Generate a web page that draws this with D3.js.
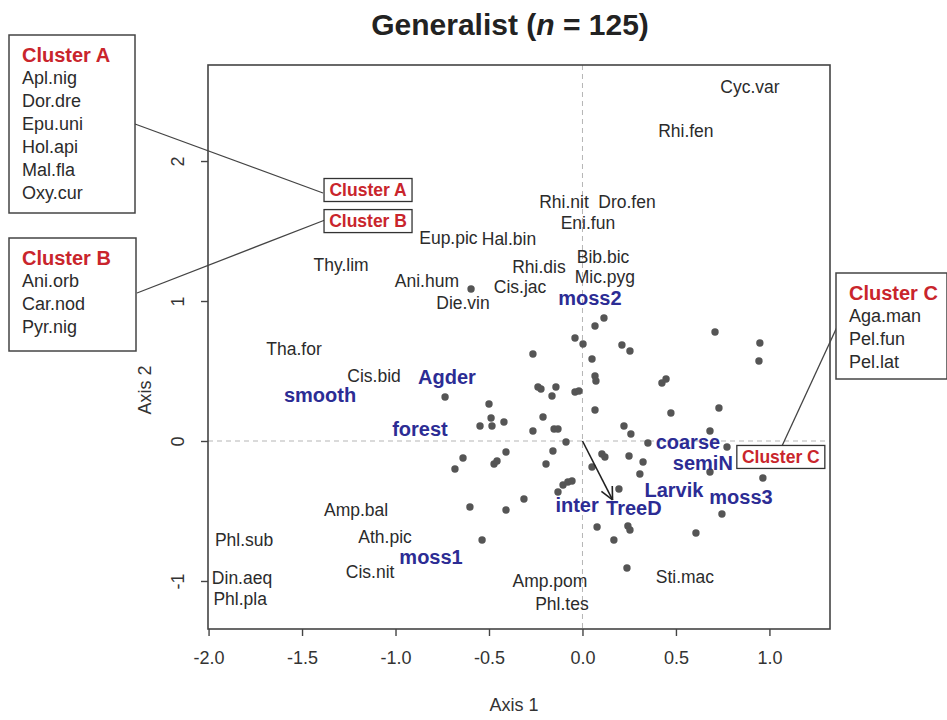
<!DOCTYPE html>
<html>
<head>
<meta charset="utf-8">
<title>Generalist</title>
<script src="https://cdn.jsdelivr.net/npm/d3@7"></script>
<style>
  body { margin: 0; background: #fff; }
  text { font-family: "Liberation Sans", Arial, sans-serif; }
</style>
</head>
<body>
<svg id="chart" width="947" height="720"></svg>
<script>
// site scores (Axis 1, Axis 2)
let siteX = [0.115, 0.067, -0.040, 0.003, -0.265, 0.051, 0.211, 0.254, 0.067, 0.072,
             -0.238, -0.222, -0.142, -0.163, -0.040, -0.019, -0.735, -0.500, 0.067, -0.489,
             -0.484, -0.420, -0.548, -0.211, -0.265, -0.152, -0.131, -0.088, -0.158, -0.409,
             0.222, 0.104, 0.120, 0.249, -0.639, 0.709, 0.949, 0.944, 0.425, 0.447,
             0.473, 0.730, 0.259, 0.682, 0.350, 0.773, 0.324, -0.682, -0.473, -0.457,
             -0.195, -0.104, -0.078, -0.056, -0.131, 0.051, 0.195, -0.313, -0.602, -0.409,
             0.078, 0.168, -0.537, 0.238, 0.682, 0.307, 0.965, 0.746, 0.243, 0.254,
             0.607, -0.596];
let siteY = [0.879, 0.821, 0.736, 0.693, 0.621, 0.586, 0.686, 0.643, 0.464, 0.429,
             0.386, 0.371, 0.386, 0.321, 0.350, 0.357, 0.314, 0.264, 0.221, 0.164,
             0.107, 0.136, 0.107, 0.171, 0.071, 0.086, 0.086, -0.007, -0.071, -0.079,
             0.107, -0.093, -0.114, -0.107, -0.121, 0.779, 0.700, 0.571, 0.414, 0.443,
             0.200, 0.236, 0.050, 0.071, -0.014, -0.043, -0.150, -0.200, -0.164, -0.143,
             -0.164, -0.314, -0.293, -0.286, -0.364, -0.186, -0.343, -0.414, -0.471, -0.493,
             -0.614, -0.707, -0.707, -0.907, -0.221, -0.236, -0.264, -0.521, -0.607, -0.636,
             -0.657, 1.086];

// species
let spNames = ["Cyc.var", "Rhi.fen", "Rhi.nit", "Dro.fen", "Eni.fun", "Eup.pic", "Hal.bin",
               "Thy.lim", "Rhi.dis", "Bib.bic", "Mic.pyg", "Ani.hum", "Cis.jac", "Die.vin",
               "Tha.for", "Cis.bid", "Amp.bal", "Ath.pic", "Phl.sub", "Din.aeq", "Phl.pla",
               "Cis.nit", "Amp.pom", "Phl.tes", "Sti.mac"];
let spX = [0.896, 0.553, -0.099, 0.238, 0.029, -0.717, -0.393,
           -1.291, -0.233, 0.110, 0.120, -0.832, -0.334, -0.639,
           -1.543, -1.115, -1.211, -1.056, -1.810, -1.821, -1.831,
           -1.136, -0.174, -0.110, 0.548];
let spY = [2.529, 2.214, 1.707, 1.707, 1.557, 1.450, 1.443,
           1.257, 1.243, 1.314, 1.171, 1.143, 1.100, 0.986,
           0.657, 0.464, -0.493, -0.686, -0.707, -0.979, -1.129,
           -0.936, -1.000, -1.164, -0.971];

// environmental variables
let envNames = ["moss2", "Agder", "smooth", "forest", "coarse", "semiN", "Larvik",
                "moss3", "inter", "TreeD", "moss1"];
let envX = [0.040, -0.725, -1.404, -0.869, 0.564, 0.644, 0.489, 0.848, -0.029, 0.275, -0.810];
let envY = [1.021, 0.457, 0.329, 0.086, -0.010, -0.160, -0.350, -0.400, -0.457, -0.479, -0.829];

// fitted vector
let arrowEnd = [0.161, -0.421];

// clusters
let clusterNames = ["Cluster A", "Cluster B", "Cluster C"];
let clusterX = [-1.147, -1.147, 1.061];
let clusterY = [1.793, 1.571, -0.114];
let clusterA = ["Apl.nig", "Dor.dre", "Epu.uni", "Hol.api", "Mal.fla", "Oxy.cur"];
let clusterB = ["Ani.orb", "Car.nod", "Pyr.nig"];
let clusterC = ["Aga.man", "Pel.fun", "Pel.lat"];

let xTicks = [-2.0, -1.5, -1.0, -0.5, 0.0, 0.5, 1.0];
let yTicks = [-1, 0, 1, 2];

let svg = d3.select("#chart");
svg.append("rect").attr("width", 947).attr("height", 720).attr("fill", "#fff");

let pLeft = 208, pRight = 830, pTop = 65, pBottom = 629;
let x = d3.scaleLinear().domain([-2.003, 1.324]).range([pLeft, pRight]);
let y = d3.scaleLinear().domain([-1.343, 2.686]).range([pBottom, pTop]);

let red = "#c9252c", blue = "#2c2c94", ink = "#2b2b2b";

// zero lines
svg.append("line")
  .attr("x1", x(0)).attr("x2", x(0)).attr("y1", pTop).attr("y2", pBottom)
  .attr("stroke", "#b5b5b5").attr("stroke-dasharray", "5,4");
svg.append("line")
  .attr("x1", pLeft).attr("x2", pRight).attr("y1", y(0)).attr("y2", y(0))
  .attr("stroke", "#b5b5b5").attr("stroke-dasharray", "5,4");

// sites
svg.append("g").selectAll("circle")
  .data(d3.range(siteX.length))
  .join("circle")
    .attr("cx", i => x(siteX[i]))
    .attr("cy", i => y(siteY[i]))
    .attr("r", 3.7)
    .attr("fill", "#555");

// arrow
let ax = x(arrowEnd[0]), ay = y(arrowEnd[1]);
let ang = Math.atan2(ay - y(0), ax - x(0));
svg.append("line")
  .attr("x1", x(0)).attr("y1", y(0)).attr("x2", ax).attr("y2", ay)
  .attr("stroke", "#222").attr("stroke-width", 1.6);
[-0.45, 0.45].forEach(function(a) {
  svg.append("line")
    .attr("x1", ax).attr("y1", ay)
    .attr("x2", ax - 14 * Math.cos(ang + a))
    .attr("y2", ay - 14 * Math.sin(ang + a))
    .attr("stroke", "#222").attr("stroke-width", 1.6);
});

// species labels
svg.append("g").selectAll("text")
  .data(spNames)
  .join("text")
    .attr("x", (d, i) => x(spX[i]))
    .attr("y", (d, i) => y(spY[i]))
    .attr("dy", "0.35em")
    .attr("text-anchor", "middle")
    .attr("font-size", 17.5)
    .attr("fill", ink)
    .text(d => d);

// env labels
svg.append("g").selectAll("text")
  .data(envNames)
  .join("text")
    .attr("x", (d, i) => x(envX[i]))
    .attr("y", (d, i) => y(envY[i]))
    .attr("dy", "0.35em")
    .attr("text-anchor", "middle")
    .attr("font-size", 20)
    .attr("font-weight", "bold")
    .attr("fill", blue)
    .text(d => d);

// connector lines from legend boxes
let links = [[135, 124, 323, 193], [137, 293, 325, 220], [837, 327, 782, 446]];
links.forEach(function(l) {
  svg.append("line")
    .attr("x1", l[0]).attr("y1", l[1]).attr("x2", l[2]).attr("y2", l[3])
    .attr("stroke", "#444").attr("stroke-width", 1.3);
});

// cluster tags inside the plot
clusterNames.forEach(function(name, i) {
  let cx = x(clusterX[i]), cy = y(clusterY[i]);
  svg.append("rect")
    .attr("x", cx - 44).attr("y", cy - 11.5).attr("width", 88).attr("height", 23)
    .attr("fill", "#fff").attr("stroke", "#333").attr("stroke-width", 1.3);
  svg.append("text")
    .attr("x", cx).attr("y", cy).attr("dy", "0.35em")
    .attr("text-anchor", "middle")
    .attr("font-size", 17.5).attr("font-weight", "bold")
    .attr("fill", red)
    .text(name);
});

// plot frame
svg.append("rect")
  .attr("x", pLeft).attr("y", pTop).attr("width", pRight - pLeft).attr("height", pBottom - pTop)
  .attr("fill", "none").attr("stroke", "#444").attr("stroke-width", 1.6);

// axes
let xAxis = svg.append("g")
  .attr("transform", "translate(0," + pBottom + ")")
  .call(d3.axisBottom(x).tickValues(xTicks).tickSize(7).tickPadding(15)
    .tickFormat(d => d.toFixed(1)));
let yAxis = svg.append("g")
  .attr("transform", "translate(" + pLeft + ",0)")
  .call(d3.axisLeft(y).tickValues(yTicks).tickSize(7).tickFormat(d => String(d)));
[xAxis, yAxis].forEach(function(a) {
  a.select(".domain").remove();
  a.selectAll(".tick line").attr("stroke", "#444").attr("stroke-width", 1.4);
  a.selectAll(".tick text").attr("font-size", 18).attr("fill", "#333")
    .attr("font-family", "Liberation Sans, Arial, sans-serif");
});
yAxis.selectAll(".tick text")
  .attr("transform", "rotate(-90)")
  .attr("x", 0).attr("y", -30).attr("dy", "0.35em")
  .attr("text-anchor", "middle");

// axis titles
svg.append("text")
  .attr("x", 514).attr("y", 705).attr("dy", "0.35em")
  .attr("text-anchor", "middle").attr("font-size", 18).attr("fill", "#333")
  .text("Axis 1");
svg.append("text")
  .attr("transform", "translate(145,390) rotate(-90)")
  .attr("dy", "0.35em")
  .attr("text-anchor", "middle").attr("font-size", 18).attr("fill", "#333")
  .text("Axis 2");

// title
let title = svg.append("text")
  .attr("x", 510).attr("y", 35)
  .attr("text-anchor", "middle").attr("font-size", 30).attr("font-weight", "bold")
  .attr("fill", "#222");
title.append("tspan").text("Generalist (");
title.append("tspan").attr("font-style", "italic").text("n");
title.append("tspan").text(" = 125)");

// cluster legend boxes
function legendBox(x0, y0, w, h, name, items) {
  svg.append("rect")
    .attr("x", x0).attr("y", y0).attr("width", w).attr("height", h)
    .attr("fill", "#fff").attr("stroke", "#444").attr("stroke-width", 1.5);
  svg.append("text")
    .attr("x", x0 + 13).attr("y", y0 + 20).attr("dy", "0.35em")
    .attr("font-size", 20).attr("font-weight", "bold").attr("fill", red)
    .text(name);
  items.forEach(function(t, i) {
    svg.append("text")
      .attr("x", x0 + 13).attr("y", y0 + 43 + i * 23).attr("dy", "0.35em")
      .attr("font-size", 18).attr("fill", ink)
      .text(t);
  });
}
legendBox(9, 35, 126, 178, "Cluster A", clusterA);
legendBox(9, 238, 127, 113, "Cluster B", clusterB);
legendBox(836, 273, 111, 106, "Cluster C", clusterC);
</script>
</body>
</html>
